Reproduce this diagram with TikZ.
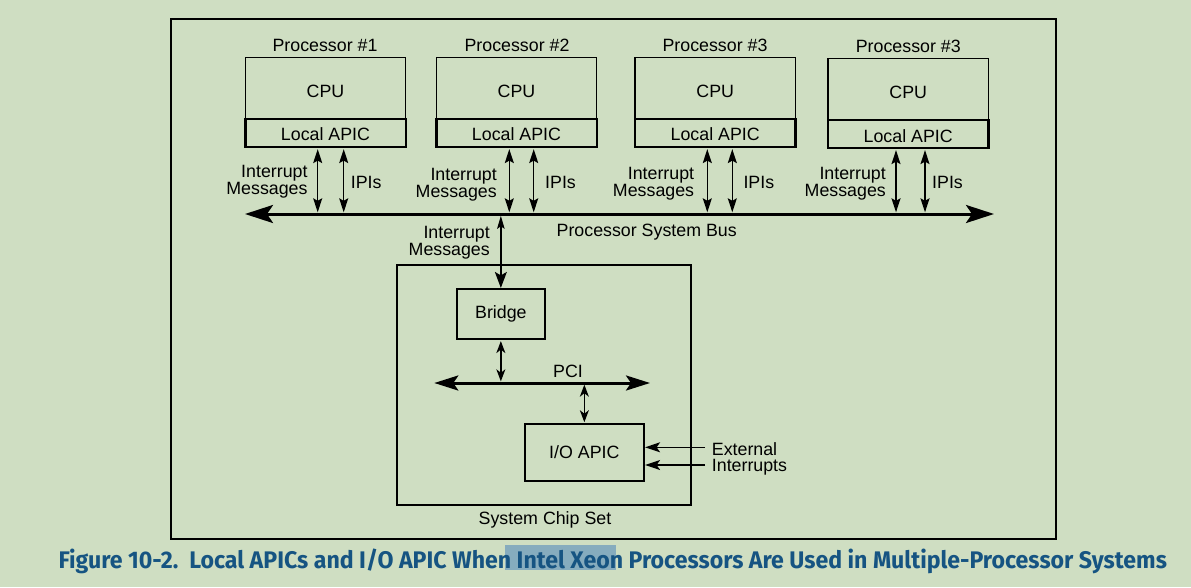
\documentclass[tikz,border=0pt]{standalone}
\usepackage{graphicx}
\usepackage{fontspec}
\setmainfont{Liberation Sans}
\newfontfamily\capfont{Fira Sans}
\usetikzlibrary{arrows.meta}
\definecolor{bg}{RGB}{207,222,194}
\definecolor{capblue}{RGB}{22,84,130}
\definecolor{hl}{RGB}{134,172,190}
\begin{document}
\begin{tikzpicture}[x=1pt,y=-1pt, inner sep=0pt,
  font=\fontsize{17.8}{15.5}\selectfont,
  cpubox/.style={draw, line width=1.2pt, minimum width=160.4pt, minimum height=61.4pt, text height=18.1pt, text depth=0pt},
  apicbox/.style={draw, line width=2.4pt, minimum width=160.4pt, minimum height=28pt, text height=16.3pt, text depth=0pt},
  plabel/.style={anchor=north},
  msglabel/.style={anchor=north east, align=right},
  ipilabel/.style={anchor=north west},
  msgarrow/.style={line width=1.4pt, {Stealth[length=14pt,width=9pt,inset=2.5pt]}-{Stealth[length=14pt,width=9pt,inset=2.5pt]}, shorten <=1.2pt},
  busarrow/.style={line width=3pt, {Stealth[length=28pt,width=18pt,inset=6pt]}-{Stealth[length=28pt,width=18pt,inset=6pt]}},
  pciarrow/.style={line width=3pt, {Stealth[length=24pt,width=15pt,inset=5pt]}-{Stealth[length=24pt,width=15pt,inset=5pt]}},
  tinyarrow/.style={line width=1.4pt, {Stealth[length=12pt,width=9pt,inset=3.5pt]}-{Stealth[length=12pt,width=9pt,inset=3.5pt]}, shorten <=1pt},
  extarrow/.style={line width=1.2pt, -{Stealth[length=15pt,width=10pt,inset=3.5pt]}},
  chipbox/.style={draw, line width=2.2pt}
]
\useasboundingbox (0,0) rectangle (1191,587);
\fill[bg] (0,0) rectangle (1191,587);
\draw[line width=2.2pt] (171,19) rectangle (1056,539);

% processors
\node[cpubox] (cpu1) at (325.5,88) {CPU};
\node[apicbox] (apic1) at (325.5,132.7) {Local APIC};
\node[cpubox] (cpu2) at (516.5,88) {CPU};
\node[apicbox] (apic2) at (516.5,132.7) {Local APIC};
\node[cpubox] (cpu3) at (715.2,88) {CPU};
\node[apicbox] (apic3) at (715.2,132.7) {Local APIC};
\node[cpubox, minimum height=61.3pt] (cpu4) at (908.2,89.35) {CPU};
\node[apicbox, minimum height=27.7pt] (apic4) at (908.2,133.85) {Local APIC};

\node[plabel] (p1) at (325,39.3) {Processor \#1};
\node[plabel] (p2) at (517,39.3) {Processor \#2};
\node[plabel] (p3) at (715,39.3) {Processor \#3};
\node[plabel] (p4) at (908.3,40) {Processor \#3};

% bus
\coordinate (busL) at (245,214);
\coordinate (busR) at (994,214);
\draw[busarrow] (busL) -- (busR);
\node[anchor=north] (busl) at (646.7,224.3) {Processor System Bus};

% bus attachment points
\coordinate (m1) at (317.7,212.3);
\coordinate (i1) at (343.7,212.3);
\coordinate (m2) at (509.3,212.3);
\coordinate (i2) at (533.7,212.3);
\coordinate (m3) at (707.3,212.3);
\coordinate (i3) at (732.3,212.3);
\coordinate (m4) at (896,212.3);
\coordinate (i4) at (925,212.3);

\foreach \k in {1,2,3,4}{
  \draw[msgarrow] (apic\k.south -| m\k) -- (m\k);
  \draw[msgarrow] (apic\k.south -| i\k) -- (i\k);
}

\node[msglabel] (ml1) at (307.7,165.3) {Interrupt\\Messages};
\node[msglabel] (ml2) at (497,167.7) {Interrupt\\Messages};
\node[msglabel] (ml3) at (694.3,166.7) {Interrupt\\Messages};
\node[msglabel] (ml4) at (886,166.7) {Interrupt\\Messages};
\node[ipilabel] (il1) at (350.7,175.7) {IPIs};
\node[ipilabel] (il2) at (545,175.7) {IPIs};
\node[ipilabel] (il3) at (743.3,175.7) {IPIs};
\node[ipilabel] (il4) at (932,175.7) {IPIs};

% chip set
\node[chipbox, minimum width=294.3pt, minimum height=240.3pt] (chip) at (543.85,384.85) {};
\node[anchor=north] (chipl) at (545,511) {System Chip Set};
\node[chipbox, minimum width=88.3pt, minimum height=50pt] (bridge) at (500.85,314) {Bridge};
\node[chipbox, minimum width=119.3pt, minimum height=56.4pt] (ioapic) at (584.35,452.5) {I/O APIC};

\coordinate (bb) at (500.85,215.8);
\draw[line width=1.4pt, {Stealth[length=13pt,width=7.5pt,inset=2.5pt]}-{Stealth[length=16pt,width=12pt,inset=3.5pt]}] (bb) -- (bridge.north);
\node[msglabel] (mlb) at (490,226) {Interrupt\\Messages};

\coordinate (pciL) at (434.3,383);
\coordinate (pciR) at (650,383);
\draw[pciarrow] (pciL) -- (pciR);
\node[anchor=north] (pcil) at (568,365) {PCI};

\coordinate (pb) at (500.85,381.3);
\draw[tinyarrow] (bridge.south) -- (pb);
\coordinate (pi) at (584.35,384.7);
\draw[tinyarrow, shorten <=0pt, shorten >=1pt] (pi) -- (ioapic.north);

\coordinate (ext1) at (705,447.3);
\coordinate (ext2) at (705,465);
\draw[extarrow] (ext1) -- (ext1 -| ioapic.east);
\draw[extarrow] (ext2) -- (ext2 -| ioapic.east);
\node[anchor=north west, align=left] (extl) at (711.7,442.7) {External\\Interrupts};

% caption
\fill[hl] (505,545) rectangle (616,570);
\node[anchor=base west, text=capblue, font=\capfont\bfseries\fontsize{24}{28}\selectfont] (cap) at (58.3,568.3)
  {\resizebox{1108.4pt}{\height}{Figure 10-2.\ \ Local APICs and I/O APIC When Intel Xeon Processors Are Used in Multiple-Processor Systems}};
\end{tikzpicture}
\end{document}
